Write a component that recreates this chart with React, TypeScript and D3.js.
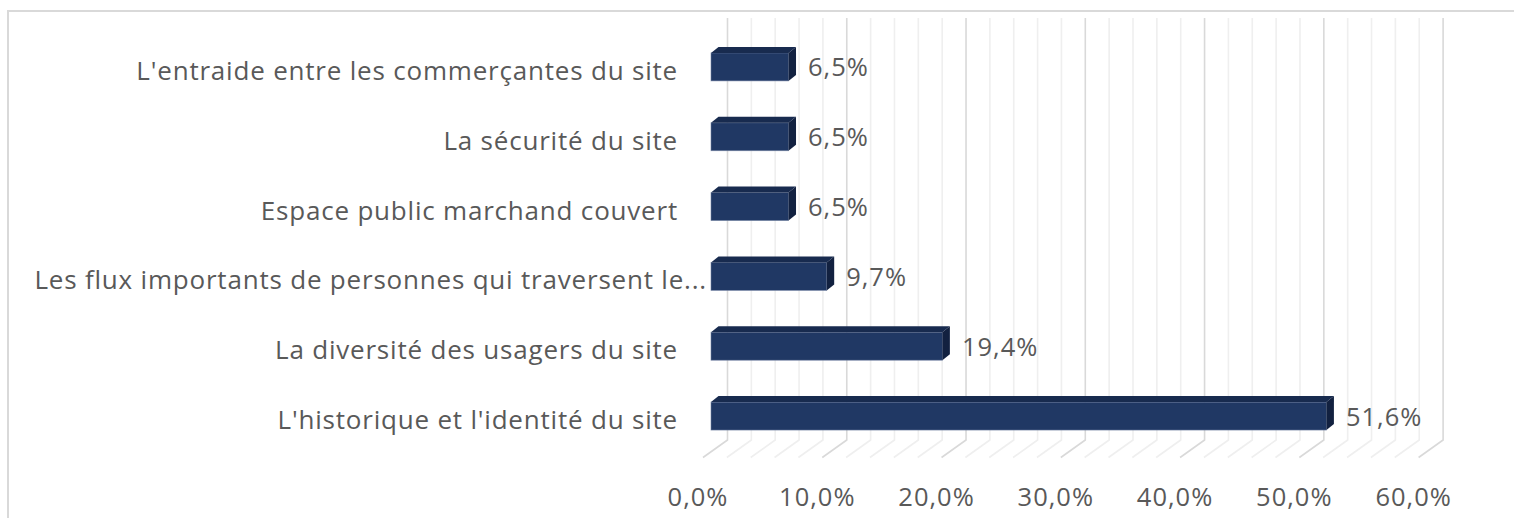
import React from "react";
import * as d3 from "d3";

const categories = [
  "L'entraide entre les commerçantes du site",
  "La sécurité du site",
  "Espace public marchand couvert",
  "Les flux importants de personnes qui traversent le...",
  "La diversité des usagers du site",
  "L'historique et l'identité du site",
];
const values = [6.5, 6.5, 6.5, 9.7, 19.4, 51.6];
const majorTicks = [0, 10, 20, 30, 40, 50, 60];
const minorTicks = [2, 4, 6, 8, 12, 14, 16, 18, 22, 24, 26, 28, 32, 34, 36, 38, 42, 44, 46, 48, 52, 54, 56, 58];

const W = 1514;
const H = 518;
const FONT = "'Open Sans', sans-serif";
const TEXT = "#595959";

const locale = d3.formatLocale({ decimal: ",", thousands: " ", grouping: [3], currency: ["", " €"] });
const fmt = (v: number) => locale.format(".1f")(v) + "%";

export default function App() {
  const x = d3.scaleLinear().domain([0, 60]).range([703, 1418.6]);
  const y = d3.scaleBand<string>().domain(categories).range([32, 451]).paddingInner(0.6).paddingOuter(0.3);
  const depth = { dx: 24.5, dy: -17.5 };
  const wallTop = 18;
  const floorBack = 440;
  const barOff = 8;
  const bd = { dx: 7.5, dy: -6 };
  const catStyle = { fontVariantLigatures: "none" as const, letterSpacing: "0.8px" };
  const numStyle = { fontVariantLigatures: "none" as const, letterSpacing: "1px" };

  const gridLine = (v: number, major: boolean) => {
    const xb = x(v) + depth.dx;
    const xf = x(v);
    return (
      <path
        key={`g${v}`}
        d={`M${xb},${wallTop}L${xb},${floorBack}L${xf},${floorBack - depth.dy}`}
        fill="none"
        stroke={major ? "#d9d9d9" : "#efefef"}
        strokeWidth={1.6}
      />
    );
  };

  return (
    <svg width={W} height={H} style={{ position: "absolute", left: 0, top: 0, display: "block", background: "#fff" }}>
      <rect x={8} y={11} width={W + 20} height={H + 20} fill="#fff" stroke="#d9d9d9" strokeWidth={2} />
      {minorTicks.map((v) => gridLine(v, false))}
      {majorTicks.map((v) => gridLine(v, true))}
      {categories.map((c, i) => {
        const y0 = y(c)!;
        const y1 = y0 + y.bandwidth();
        const x0 = x(0) + barOff;
        const x1 = x(values[i]) + barOff;
        const cy = (y0 + y1) / 2;
        return (
          <g key={c}>
            <rect x={x0} y={y0} width={x1 - x0} height={y1 - y0} fill="#203864" stroke="#6f80a3" strokeWidth={0.8} strokeOpacity={0.7} />
            <path
              d={`M${x0},${y0}L${x0 + bd.dx},${y0 + bd.dy}L${x1 + bd.dx},${y0 + bd.dy}L${x1},${y0}Z`}
              fill="#182b4f"
            />
            <path
              d={`M${x1},${y0}L${x1 + bd.dx},${y0 + bd.dy}L${x1 + bd.dx},${y1 + bd.dy}L${x1},${y1}Z`}
              fill="#122140"
            />
            <text
              x={x1 + bd.dx + 12}
              y={cy + 9.5}
              fontFamily={FONT}
              fontSize={25.5}
              fill={TEXT}
              style={numStyle}
            >
              {fmt(values[i])}
            </text>
            <text
              x={c.endsWith("...") ? 707 : 678}
              y={cy + 13}
              textAnchor="end"
              fontFamily={FONT}
              fontSize={26}
              fill={TEXT}
              style={catStyle}
            >
              {c}
            </text>
          </g>
        );
      })}
      {majorTicks.map((v) => (
        <text
          key={`t${v}`}
          x={x(v) - 5}
          y={506}
          textAnchor="middle"
          fontFamily={FONT}
          fontSize={25.5}
          fill={TEXT}
          style={numStyle}
        >
          {fmt(v)}
        </text>
      ))}
    </svg>
  );
}
